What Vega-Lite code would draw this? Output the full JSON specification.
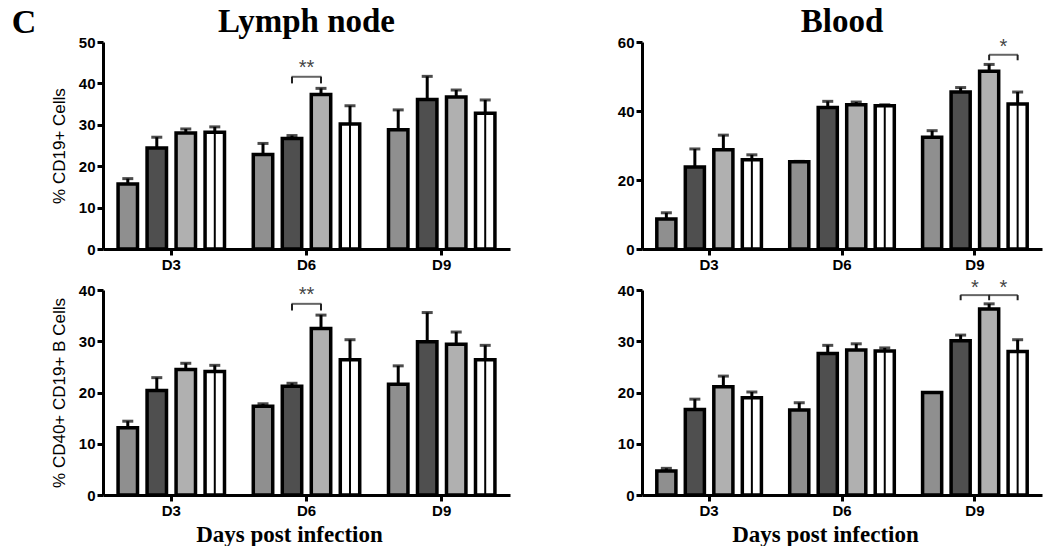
{
  "$schema": "https://vega.github.io/schema/vega-lite/v6.json",
  "background": "white",
  "padding": {"left": 11, "top": 6, "right": 2, "bottom": 2},
  "title": {"text": "C", "orient": "left", "anchor": "end", "angle": 0, "font": "Liberation Serif", "fontSize": 34, "fontWeight": "bold", "color": "black", "baseline": "top", "align": "left", "offset": 14, "dy": 0},
  "config": {
    "view": {"stroke": null},
    "axis": {"domainColor": "black", "domainWidth": 3, "tickColor": "black", "tickWidth": 3, "tickSize": 6, "labelFont": "Liberation Sans", "labelFontWeight": "bold", "labelFontSize": 15, "labelColor": "black", "grid": false, "titleColor": "black"},
    "axisY": {"titleFont": "Liberation Sans", "titleFontWeight": "normal", "titleFontSize": 17, "titlePadding": 10},
    "axisX": {"titleFont": "Liberation Serif", "titleFontWeight": "bold", "titleFontSize": 23, "labelAngle": 0, "titlePadding": 5},
    "title": {"font": "Liberation Serif", "fontWeight": "bold", "fontSize": 33, "color": "black", "offset": -4}
  },
  "datasets": {
    "bars": [
      {"panel": "TL", "day": "D3", "group": "b1", "value": 15.7, "upper": 17.0},
      {"panel": "TL", "day": "D3", "group": "b2", "value": 24.4, "upper": 27.0},
      {"panel": "TL", "day": "D3", "group": "b3", "value": 28.0, "upper": 29.0},
      {"panel": "TL", "day": "D3", "group": "b4", "value": 28.2, "upper": 29.5},
      {"panel": "TL", "day": "D6", "group": "b1", "value": 22.8, "upper": 25.5},
      {"panel": "TL", "day": "D6", "group": "b2", "value": 26.7, "upper": 27.4},
      {"panel": "TL", "day": "D6", "group": "b3", "value": 37.3, "upper": 38.8},
      {"panel": "TL", "day": "D6", "group": "b4", "value": 30.2, "upper": 34.6},
      {"panel": "TL", "day": "D9", "group": "b1", "value": 28.8, "upper": 33.6},
      {"panel": "TL", "day": "D9", "group": "b2", "value": 36.1, "upper": 41.7},
      {"panel": "TL", "day": "D9", "group": "b3", "value": 36.7, "upper": 38.4},
      {"panel": "TL", "day": "D9", "group": "b4", "value": 32.8, "upper": 36.0},
      {"panel": "TR", "day": "D3", "group": "b1", "value": 8.7, "upper": 10.5},
      {"panel": "TR", "day": "D3", "group": "b2", "value": 23.8, "upper": 29.0},
      {"panel": "TR", "day": "D3", "group": "b3", "value": 28.8, "upper": 33.0},
      {"panel": "TR", "day": "D3", "group": "b4", "value": 25.9, "upper": 27.3},
      {"panel": "TR", "day": "D6", "group": "b1", "value": 25.3, "upper": 25.4},
      {"panel": "TR", "day": "D6", "group": "b2", "value": 41.0, "upper": 42.8},
      {"panel": "TR", "day": "D6", "group": "b3", "value": 41.8, "upper": 42.6},
      {"panel": "TR", "day": "D6", "group": "b4", "value": 41.5, "upper": 41.8},
      {"panel": "TR", "day": "D9", "group": "b1", "value": 32.4, "upper": 34.3},
      {"panel": "TR", "day": "D9", "group": "b2", "value": 45.5, "upper": 46.8},
      {"panel": "TR", "day": "D9", "group": "b3", "value": 51.5, "upper": 53.5},
      {"panel": "TR", "day": "D9", "group": "b4", "value": 42.0, "upper": 45.5},
      {"panel": "BL", "day": "D3", "group": "b1", "value": 13.1, "upper": 14.4},
      {"panel": "BL", "day": "D3", "group": "b2", "value": 20.4, "upper": 22.9},
      {"panel": "BL", "day": "D3", "group": "b3", "value": 24.5, "upper": 25.7},
      {"panel": "BL", "day": "D3", "group": "b4", "value": 24.1, "upper": 25.3},
      {"panel": "BL", "day": "D6", "group": "b1", "value": 17.3, "upper": 17.8},
      {"panel": "BL", "day": "D6", "group": "b2", "value": 21.2, "upper": 21.8},
      {"panel": "BL", "day": "D6", "group": "b3", "value": 32.5, "upper": 35.1},
      {"panel": "BL", "day": "D6", "group": "b4", "value": 26.4, "upper": 30.3},
      {"panel": "BL", "day": "D9", "group": "b1", "value": 21.6, "upper": 25.2},
      {"panel": "BL", "day": "D9", "group": "b2", "value": 29.9, "upper": 35.6},
      {"panel": "BL", "day": "D9", "group": "b3", "value": 29.4, "upper": 31.8},
      {"panel": "BL", "day": "D9", "group": "b4", "value": 26.4, "upper": 29.2},
      {"panel": "BR", "day": "D3", "group": "b1", "value": 4.7, "upper": 5.2},
      {"panel": "BR", "day": "D3", "group": "b2", "value": 16.7, "upper": 18.7},
      {"panel": "BR", "day": "D3", "group": "b3", "value": 21.1, "upper": 23.2},
      {"panel": "BR", "day": "D3", "group": "b4", "value": 19.0, "upper": 20.1},
      {"panel": "BR", "day": "D6", "group": "b1", "value": 16.6, "upper": 18.0},
      {"panel": "BR", "day": "D6", "group": "b2", "value": 27.6, "upper": 29.2},
      {"panel": "BR", "day": "D6", "group": "b3", "value": 28.3, "upper": 29.5},
      {"panel": "BR", "day": "D6", "group": "b4", "value": 28.1, "upper": 28.7},
      {"panel": "BR", "day": "D9", "group": "b1", "value": 20.0, "upper": 20.0},
      {"panel": "BR", "day": "D9", "group": "b2", "value": 30.1, "upper": 31.2},
      {"panel": "BR", "day": "D9", "group": "b3", "value": 36.3, "upper": 37.3},
      {"panel": "BR", "day": "D9", "group": "b4", "value": 28.0, "upper": 30.3}
    ],
    "legs": [
      {"panel": "TL", "day": "D6", "group": "b2", "lo": 40.0, "hi": 41.6},
      {"panel": "TL", "day": "D6", "group": "b3", "lo": 40.0, "hi": 41.6},
      {"panel": "TR", "day": "D9", "group": "b3", "lo": 54.7, "hi": 56.3},
      {"panel": "TR", "day": "D9", "group": "b4", "lo": 54.7, "hi": 56.3},
      {"panel": "BL", "day": "D6", "group": "b2", "lo": 36.0, "hi": 37.3},
      {"panel": "BL", "day": "D6", "group": "b3", "lo": 36.0, "hi": 37.3},
      {"panel": "BR", "day": "D9", "group": "b2", "lo": 38.0, "hi": 39.0},
      {"panel": "BR", "day": "D9", "group": "b3", "lo": 38.0, "hi": 39.0},
      {"panel": "BR", "day": "D9", "group": "b4", "lo": 38.0, "hi": 39.0}
    ],
    "spans": [
      {"panel": "TL", "day": "D6", "mid": "m23", "hi": 41.6, "star": 43.6, "label": "**"},
      {"panel": "TR", "day": "D9", "mid": "m34", "hi": 56.3, "star": 58.6, "label": "*"},
      {"panel": "BL", "day": "D6", "mid": "m23", "hi": 37.3, "star": 39.0, "label": "**"},
      {"panel": "BR", "day": "D9", "mid": "m23", "hi": 39.0, "star": 40.4, "label": "*"},
      {"panel": "BR", "day": "D9", "mid": "m34", "hi": 39.0, "star": 40.4, "label": "*"}
    ]
  },
  "vconcat": [
    {
      "hconcat": [
        {
          "width": 407, "height": 207,
          "title": "Lymph node",
          "resolve": {"scale": {"xOffset": "independent"}},
          "layer": [
            {"data": {"name": "bars"}, "transform": [{"filter": "datum.panel === 'TL'"}],
             "mark": {"type": "bar", "stroke": "black", "strokeWidth": 3.5},
             "encoding": {
               "x": {"field": "day", "type": "nominal", "scale": {"paddingInner": 0.17, "paddingOuter": 0.09}, "axis": {"title": null}},
               "xOffset": {"field": "group", "type": "nominal", "scale": {"domain": ["b1", "b2", "b3", "b4"], "paddingInner": 0.33, "paddingOuter": 0.1}},
               "y": {"field": "value", "type": "quantitative", "scale": {"domain": [0, 50], "nice": false}, "axis": {"title": "% CD19+ Cells", "values": [0, 10, 20, 30, 40, 50]}},
               "fill": {"field": "group", "type": "nominal", "scale": {"domain": ["b1", "b2", "b3", "b4"], "range": ["#8f8f8f", "#4f4f4f", "#b0b0b0", "#ffffff"]}, "legend": null}
             }},
            {"data": {"name": "bars"}, "transform": [{"filter": "datum.panel === 'TL'"}],
             "mark": {"type": "rule", "color": "black", "strokeWidth": 3},
             "encoding": {"x": {"field": "day", "type": "nominal"}, "xOffset": {"field": "group", "type": "nominal", "scale": {"domain": ["b1", "b2", "b3", "b4"], "paddingInner": 0.33, "paddingOuter": 0.1}}, "y": {"field": "value", "type": "quantitative"}, "y2": {"field": "upper"}}},
            {"data": {"name": "bars"}, "transform": [{"filter": "datum.panel === 'TL'"}],
             "mark": {"type": "tick", "color": "black", "thickness": 3, "size": 11, "orient": "horizontal"},
             "encoding": {"x": {"field": "day", "type": "nominal"}, "xOffset": {"field": "group", "type": "nominal", "scale": {"domain": ["b1", "b2", "b3", "b4"], "paddingInner": 0.33, "paddingOuter": 0.1}}, "y": {"field": "upper", "type": "quantitative"}}},
            {"data": {"name": "bars"}, "transform": [{"filter": "datum.panel === 'TL' && datum.group === 'b4'"}],
             "mark": {"type": "rule", "color": "black", "strokeWidth": 2},
             "encoding": {"x": {"field": "day", "type": "nominal"}, "xOffset": {"field": "group", "type": "nominal", "scale": {"domain": ["b1", "b2", "b3", "b4"], "paddingInner": 0.33, "paddingOuter": 0.1}}, "y": {"field": "value", "type": "quantitative"}, "y2": {"datum": 0}}},
            {"data": {"name": "legs"}, "transform": [{"filter": "datum.panel === 'TL'"}],
             "mark": {"type": "rule", "color": "#222", "strokeWidth": 2},
             "encoding": {"x": {"field": "day", "type": "nominal"}, "xOffset": {"field": "group", "type": "nominal", "scale": {"domain": ["b1", "b2", "b3", "b4"], "paddingInner": 0.33, "paddingOuter": 0.1}}, "y": {"field": "lo", "type": "quantitative"}, "y2": {"field": "hi"}}},
            {"data": {"name": "spans"}, "transform": [{"filter": "datum.panel === 'TL'"}],
             "mark": {"type": "tick", "color": "#222", "thickness": 2, "size": 30, "orient": "horizontal"},
             "encoding": {"x": {"field": "day", "type": "nominal"}, "xOffset": {"field": "mid", "type": "nominal", "scale": {"type": "point", "domain": ["b1", "m12", "b2", "m23", "b3", "m34", "b4"], "padding": 0.87}}, "y": {"field": "hi", "type": "quantitative"}}},
            {"data": {"name": "spans"}, "transform": [{"filter": "datum.panel === 'TL'"}],
             "mark": {"type": "text", "font": "Liberation Sans", "fontSize": 20, "color": "#444", "baseline": "middle"},
             "encoding": {"x": {"field": "day", "type": "nominal"}, "xOffset": {"field": "mid", "type": "nominal", "scale": {"type": "point", "domain": ["b1", "m12", "b2", "m23", "b3", "m34", "b4"], "padding": 0.87}}, "y": {"field": "star", "type": "quantitative"}, "text": {"field": "label", "type": "nominal"}}}
          ]
        },
        {
          "width": 400, "height": 207,
          "title": "Blood",
          "resolve": {"scale": {"xOffset": "independent"}},
          "layer": [
            {"data": {"name": "bars"}, "transform": [{"filter": "datum.panel === 'TR'"}],
             "mark": {"type": "bar", "stroke": "black", "strokeWidth": 3.5},
             "encoding": {
               "x": {"field": "day", "type": "nominal", "scale": {"paddingInner": 0.17, "paddingOuter": 0.09}, "axis": {"title": null}},
               "xOffset": {"field": "group", "type": "nominal", "scale": {"domain": ["b1", "b2", "b3", "b4"], "paddingInner": 0.33, "paddingOuter": 0.1}},
               "y": {"field": "value", "type": "quantitative", "scale": {"domain": [0, 60], "nice": false}, "axis": {"title": null, "values": [0, 20, 40, 60]}},
               "fill": {"field": "group", "type": "nominal", "scale": {"domain": ["b1", "b2", "b3", "b4"], "range": ["#8f8f8f", "#4f4f4f", "#b0b0b0", "#ffffff"]}, "legend": null}
             }},
            {"data": {"name": "bars"}, "transform": [{"filter": "datum.panel === 'TR'"}],
             "mark": {"type": "rule", "color": "black", "strokeWidth": 3},
             "encoding": {"x": {"field": "day", "type": "nominal"}, "xOffset": {"field": "group", "type": "nominal", "scale": {"domain": ["b1", "b2", "b3", "b4"], "paddingInner": 0.33, "paddingOuter": 0.1}}, "y": {"field": "value", "type": "quantitative"}, "y2": {"field": "upper"}}},
            {"data": {"name": "bars"}, "transform": [{"filter": "datum.panel === 'TR'"}],
             "mark": {"type": "tick", "color": "black", "thickness": 3, "size": 11, "orient": "horizontal"},
             "encoding": {"x": {"field": "day", "type": "nominal"}, "xOffset": {"field": "group", "type": "nominal", "scale": {"domain": ["b1", "b2", "b3", "b4"], "paddingInner": 0.33, "paddingOuter": 0.1}}, "y": {"field": "upper", "type": "quantitative"}}},
            {"data": {"name": "bars"}, "transform": [{"filter": "datum.panel === 'TR' && datum.group === 'b4'"}],
             "mark": {"type": "rule", "color": "black", "strokeWidth": 2},
             "encoding": {"x": {"field": "day", "type": "nominal"}, "xOffset": {"field": "group", "type": "nominal", "scale": {"domain": ["b1", "b2", "b3", "b4"], "paddingInner": 0.33, "paddingOuter": 0.1}}, "y": {"field": "value", "type": "quantitative"}, "y2": {"datum": 0}}},
            {"data": {"name": "legs"}, "transform": [{"filter": "datum.panel === 'TR'"}],
             "mark": {"type": "rule", "color": "#222", "strokeWidth": 2},
             "encoding": {"x": {"field": "day", "type": "nominal"}, "xOffset": {"field": "group", "type": "nominal", "scale": {"domain": ["b1", "b2", "b3", "b4"], "paddingInner": 0.33, "paddingOuter": 0.1}}, "y": {"field": "lo", "type": "quantitative"}, "y2": {"field": "hi"}}},
            {"data": {"name": "spans"}, "transform": [{"filter": "datum.panel === 'TR'"}],
             "mark": {"type": "tick", "color": "#222", "thickness": 2, "size": 29, "orient": "horizontal"},
             "encoding": {"x": {"field": "day", "type": "nominal"}, "xOffset": {"field": "mid", "type": "nominal", "scale": {"type": "point", "domain": ["b1", "m12", "b2", "m23", "b3", "m34", "b4"], "padding": 0.87}}, "y": {"field": "hi", "type": "quantitative"}}},
            {"data": {"name": "spans"}, "transform": [{"filter": "datum.panel === 'TR'"}],
             "mark": {"type": "text", "font": "Liberation Sans", "fontSize": 20, "color": "#444", "baseline": "middle"},
             "encoding": {"x": {"field": "day", "type": "nominal"}, "xOffset": {"field": "mid", "type": "nominal", "scale": {"type": "point", "domain": ["b1", "m12", "b2", "m23", "b3", "m34", "b4"], "padding": 0.87}}, "y": {"field": "star", "type": "quantitative"}, "text": {"field": "label", "type": "nominal"}}}
          ]
        }
      ],
      "spacing": 107
    },
    {
      "hconcat": [
        {
          "width": 407, "height": 205,
          "resolve": {"scale": {"xOffset": "independent"}},
          "layer": [
            {"data": {"name": "bars"}, "transform": [{"filter": "datum.panel === 'BL'"}],
             "mark": {"type": "bar", "stroke": "black", "strokeWidth": 3.5},
             "encoding": {
               "x": {"field": "day", "type": "nominal", "scale": {"paddingInner": 0.17, "paddingOuter": 0.09}, "axis": {"title": "Days post infection", "titleX": 186}},
               "xOffset": {"field": "group", "type": "nominal", "scale": {"domain": ["b1", "b2", "b3", "b4"], "paddingInner": 0.33, "paddingOuter": 0.1}},
               "y": {"field": "value", "type": "quantitative", "scale": {"domain": [0, 40], "nice": false}, "axis": {"title": "% CD40+ CD19+ B Cells", "values": [0, 10, 20, 30, 40]}},
               "fill": {"field": "group", "type": "nominal", "scale": {"domain": ["b1", "b2", "b3", "b4"], "range": ["#8f8f8f", "#4f4f4f", "#b0b0b0", "#ffffff"]}, "legend": null}
             }},
            {"data": {"name": "bars"}, "transform": [{"filter": "datum.panel === 'BL'"}],
             "mark": {"type": "rule", "color": "black", "strokeWidth": 3},
             "encoding": {"x": {"field": "day", "type": "nominal"}, "xOffset": {"field": "group", "type": "nominal", "scale": {"domain": ["b1", "b2", "b3", "b4"], "paddingInner": 0.33, "paddingOuter": 0.1}}, "y": {"field": "value", "type": "quantitative"}, "y2": {"field": "upper"}}},
            {"data": {"name": "bars"}, "transform": [{"filter": "datum.panel === 'BL'"}],
             "mark": {"type": "tick", "color": "black", "thickness": 3, "size": 11, "orient": "horizontal"},
             "encoding": {"x": {"field": "day", "type": "nominal"}, "xOffset": {"field": "group", "type": "nominal", "scale": {"domain": ["b1", "b2", "b3", "b4"], "paddingInner": 0.33, "paddingOuter": 0.1}}, "y": {"field": "upper", "type": "quantitative"}}},
            {"data": {"name": "bars"}, "transform": [{"filter": "datum.panel === 'BL' && datum.group === 'b4'"}],
             "mark": {"type": "rule", "color": "black", "strokeWidth": 2},
             "encoding": {"x": {"field": "day", "type": "nominal"}, "xOffset": {"field": "group", "type": "nominal", "scale": {"domain": ["b1", "b2", "b3", "b4"], "paddingInner": 0.33, "paddingOuter": 0.1}}, "y": {"field": "value", "type": "quantitative"}, "y2": {"datum": 0}}},
            {"data": {"name": "legs"}, "transform": [{"filter": "datum.panel === 'BL'"}],
             "mark": {"type": "rule", "color": "#222", "strokeWidth": 2},
             "encoding": {"x": {"field": "day", "type": "nominal"}, "xOffset": {"field": "group", "type": "nominal", "scale": {"domain": ["b1", "b2", "b3", "b4"], "paddingInner": 0.33, "paddingOuter": 0.1}}, "y": {"field": "lo", "type": "quantitative"}, "y2": {"field": "hi"}}},
            {"data": {"name": "spans"}, "transform": [{"filter": "datum.panel === 'BL'"}],
             "mark": {"type": "tick", "color": "#222", "thickness": 2, "size": 30, "orient": "horizontal"},
             "encoding": {"x": {"field": "day", "type": "nominal"}, "xOffset": {"field": "mid", "type": "nominal", "scale": {"type": "point", "domain": ["b1", "m12", "b2", "m23", "b3", "m34", "b4"], "padding": 0.87}}, "y": {"field": "hi", "type": "quantitative"}}},
            {"data": {"name": "spans"}, "transform": [{"filter": "datum.panel === 'BL'"}],
             "mark": {"type": "text", "font": "Liberation Sans", "fontSize": 20, "color": "#444", "baseline": "middle"},
             "encoding": {"x": {"field": "day", "type": "nominal"}, "xOffset": {"field": "mid", "type": "nominal", "scale": {"type": "point", "domain": ["b1", "m12", "b2", "m23", "b3", "m34", "b4"], "padding": 0.87}}, "y": {"field": "star", "type": "quantitative"}, "text": {"field": "label", "type": "nominal"}}}
          ]
        },
        {
          "width": 400, "height": 205,
          "resolve": {"scale": {"xOffset": "independent"}},
          "layer": [
            {"data": {"name": "bars"}, "transform": [{"filter": "datum.panel === 'BR'"}],
             "mark": {"type": "bar", "stroke": "black", "strokeWidth": 3.5},
             "encoding": {
               "x": {"field": "day", "type": "nominal", "scale": {"paddingInner": 0.17, "paddingOuter": 0.09}, "axis": {"title": "Days post infection", "titleX": 183}},
               "xOffset": {"field": "group", "type": "nominal", "scale": {"domain": ["b1", "b2", "b3", "b4"], "paddingInner": 0.33, "paddingOuter": 0.1}},
               "y": {"field": "value", "type": "quantitative", "scale": {"domain": [0, 40], "nice": false}, "axis": {"title": null, "values": [0, 10, 20, 30, 40]}},
               "fill": {"field": "group", "type": "nominal", "scale": {"domain": ["b1", "b2", "b3", "b4"], "range": ["#8f8f8f", "#4f4f4f", "#b0b0b0", "#ffffff"]}, "legend": null}
             }},
            {"data": {"name": "bars"}, "transform": [{"filter": "datum.panel === 'BR'"}],
             "mark": {"type": "rule", "color": "black", "strokeWidth": 3},
             "encoding": {"x": {"field": "day", "type": "nominal"}, "xOffset": {"field": "group", "type": "nominal", "scale": {"domain": ["b1", "b2", "b3", "b4"], "paddingInner": 0.33, "paddingOuter": 0.1}}, "y": {"field": "value", "type": "quantitative"}, "y2": {"field": "upper"}}},
            {"data": {"name": "bars"}, "transform": [{"filter": "datum.panel === 'BR'"}],
             "mark": {"type": "tick", "color": "black", "thickness": 3, "size": 11, "orient": "horizontal"},
             "encoding": {"x": {"field": "day", "type": "nominal"}, "xOffset": {"field": "group", "type": "nominal", "scale": {"domain": ["b1", "b2", "b3", "b4"], "paddingInner": 0.33, "paddingOuter": 0.1}}, "y": {"field": "upper", "type": "quantitative"}}},
            {"data": {"name": "bars"}, "transform": [{"filter": "datum.panel === 'BR' && datum.group === 'b4'"}],
             "mark": {"type": "rule", "color": "black", "strokeWidth": 2},
             "encoding": {"x": {"field": "day", "type": "nominal"}, "xOffset": {"field": "group", "type": "nominal", "scale": {"domain": ["b1", "b2", "b3", "b4"], "paddingInner": 0.33, "paddingOuter": 0.1}}, "y": {"field": "value", "type": "quantitative"}, "y2": {"datum": 0}}},
            {"data": {"name": "legs"}, "transform": [{"filter": "datum.panel === 'BR'"}],
             "mark": {"type": "rule", "color": "#222", "strokeWidth": 2},
             "encoding": {"x": {"field": "day", "type": "nominal"}, "xOffset": {"field": "group", "type": "nominal", "scale": {"domain": ["b1", "b2", "b3", "b4"], "paddingInner": 0.33, "paddingOuter": 0.1}}, "y": {"field": "lo", "type": "quantitative"}, "y2": {"field": "hi"}}},
            {"data": {"name": "spans"}, "transform": [{"filter": "datum.panel === 'BR'"}],
             "mark": {"type": "tick", "color": "#222", "thickness": 2, "size": 29, "orient": "horizontal"},
             "encoding": {"x": {"field": "day", "type": "nominal"}, "xOffset": {"field": "mid", "type": "nominal", "scale": {"type": "point", "domain": ["b1", "m12", "b2", "m23", "b3", "m34", "b4"], "padding": 0.87}}, "y": {"field": "hi", "type": "quantitative"}}},
            {"data": {"name": "spans"}, "transform": [{"filter": "datum.panel === 'BR'"}],
             "mark": {"type": "text", "font": "Liberation Sans", "fontSize": 20, "color": "#444", "baseline": "middle"},
             "encoding": {"x": {"field": "day", "type": "nominal"}, "xOffset": {"field": "mid", "type": "nominal", "scale": {"type": "point", "domain": ["b1", "m12", "b2", "m23", "b3", "m34", "b4"], "padding": 0.87}}, "y": {"field": "star", "type": "quantitative"}, "text": {"field": "label", "type": "nominal"}}}
          ]
        }
      ],
      "spacing": 107
    }
  ],
  "spacing": 5
}
